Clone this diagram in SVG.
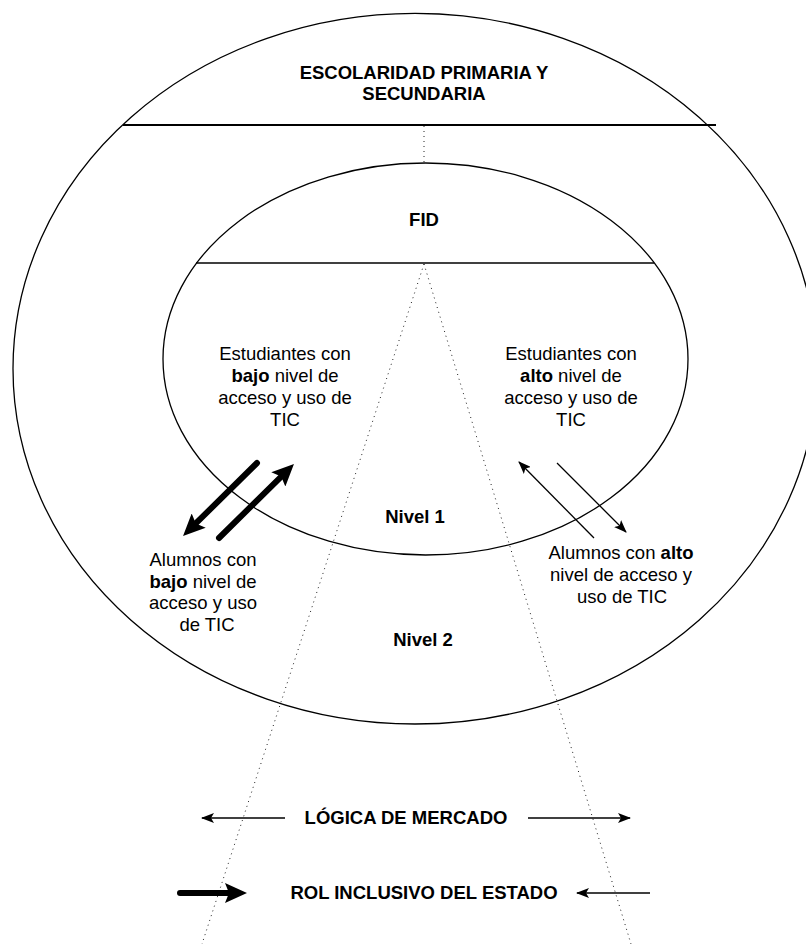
<svg xmlns="http://www.w3.org/2000/svg" width="806" height="944" viewBox="0 0 806 944">
<style>
text{font-family:"Liberation Sans",Arial,sans-serif;font-size:18.5px;fill:#000;text-anchor:middle}
.b{font-weight:bold}
.shape{fill:none;stroke:#000;stroke-width:1.3}
.dot{fill:none;stroke:#222;stroke-width:1;stroke-dasharray:1 4}
.thick{stroke:#000;stroke-width:6;stroke-linecap:round;fill:none}
.thin{stroke:#000;stroke-width:1.3;fill:none}
</style>
<defs>
<marker id="hThick" markerUnits="userSpaceOnUse" viewBox="0 0 22 20" markerWidth="22" markerHeight="20" refX="8" refY="10" orient="auto">
<path d="M0,0 L22,10 L0,20 L4,10 z" fill="#000"/>
</marker>
<marker id="hThin" markerUnits="userSpaceOnUse" viewBox="0 0 13 10" markerWidth="13" markerHeight="10" refX="12" refY="5" orient="auto">
<path d="M0,0 L13,5 L0,10 L3,5 z" fill="#000"/>
</marker>
</defs>

<g id="outer">
<ellipse class="shape" cx="415" cy="368.7" rx="402" ry="355.3"/>
<line x1="123" y1="125" x2="716" y2="125" stroke="#000" stroke-width="2"/>
<text class="b" x="424" y="79">ESCOLARIDAD PRIMARIA Y</text>
<text class="b" x="424" y="100">SECUNDARIA</text>
</g>

<g id="inner">
<ellipse class="shape" cx="425.5" cy="359" rx="262.5" ry="196"/>
<line x1="196" y1="263" x2="654" y2="263" stroke="#000" stroke-width="1.5"/>
<text class="b" x="424" y="226">FID</text>
</g>

<g id="estudiantes-bajo">
<text x="285" y="360">Estudiantes con</text>
<text x="285" y="382"><tspan class="b">bajo</tspan> nivel de</text>
<text x="285" y="403.5">acceso y uso de</text>
<text x="285" y="425.5">TIC</text>
</g>

<g id="estudiantes-alto">
<text x="571" y="360">Estudiantes con</text>
<text x="571" y="382"><tspan class="b">alto</tspan> nivel de</text>
<text x="571" y="403.5">acceso y uso de</text>
<text x="571" y="425.5">TIC</text>
</g>

<g id="nivel1"><text class="b" x="415" y="523">Nivel 1</text></g>
<g id="nivel2"><text class="b" x="423" y="646">Nivel 2</text></g>

<g id="alumnos-bajo">
<text x="203" y="566">Alumnos con</text>
<text x="203" y="588"><tspan class="b">bajo</tspan> nivel de</text>
<text x="203" y="609">acceso y uso</text>
<text x="207" y="631">de TIC</text>
</g>

<g id="alumnos-alto">
<text x="621" y="559">Alumnos con <tspan class="b">alto</tspan></text>
<text x="621" y="581">nivel de acceso y</text>
<text x="622" y="603">uso de TIC</text>
</g>

<g id="logica"><text class="b" x="406" y="824">LÓGICA DE MERCADO</text></g>
<g id="rol"><text class="b" x="424" y="899">ROL INCLUSIVO DEL ESTADO</text></g>

<g id="connectors">
<line class="dot" x1="424" y1="126" x2="424" y2="163"/>
<line class="dot" x1="424" y1="264" x2="202" y2="944"/>
<line class="dot" x1="424" y1="264" x2="631" y2="944"/>
<line class="thick" x1="257" y1="463" x2="193" y2="526.2" marker-end="url(#hThick)"/>
<line class="thick" x1="219" y1="538" x2="284" y2="473.8" marker-end="url(#hThick)"/>
<line class="thin" x1="594" y1="538" x2="519" y2="462" marker-end="url(#hThin)"/>
<line class="thin" x1="557" y1="463" x2="626" y2="532" marker-end="url(#hThin)"/>
<line class="thin" x1="285" y1="818" x2="202" y2="818" marker-end="url(#hThin)"/>
<line class="thin" x1="528" y1="818" x2="630" y2="818" marker-end="url(#hThin)"/>
<line class="thick" x1="180" y1="893" x2="233" y2="893" marker-end="url(#hThick)"/>
<line class="thin" x1="650" y1="893" x2="577" y2="893" marker-end="url(#hThin)"/>
</g>
</svg>
